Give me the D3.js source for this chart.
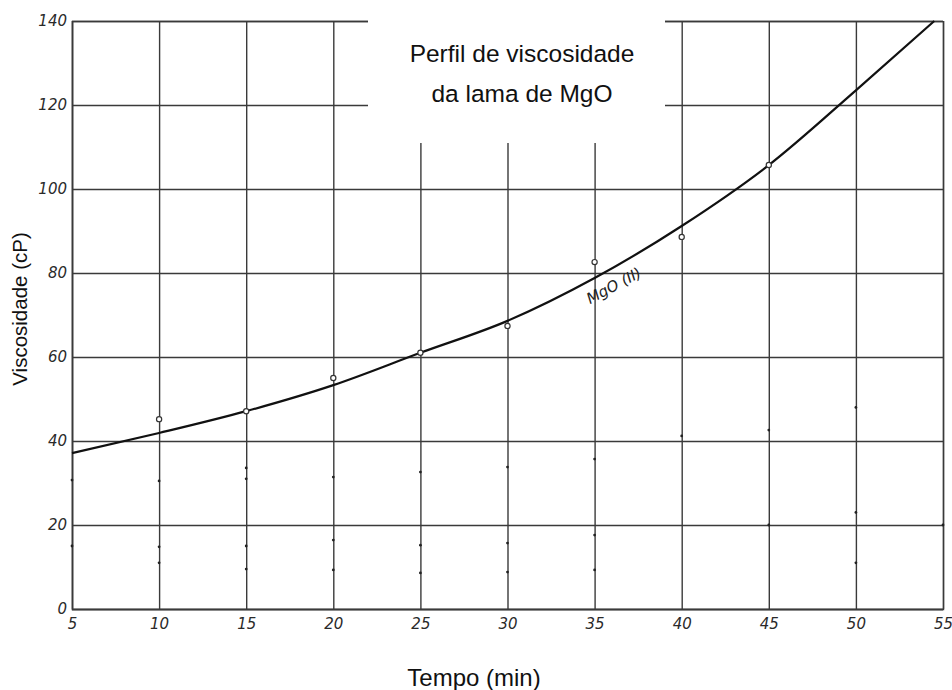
<!DOCTYPE html>
<html>
<head>
<meta charset="utf-8">
<script src="https://cdn.jsdelivr.net/npm/d3@7"></script>
<style>
body { margin: 0; background: #fff; }
</style>
</head>
<body>
<svg id="chart"></svg>
<script>
// tick labels
const timeTicks = [5, 10, 15, 20, 25, 30, 35, 40, 45, 50, 55];
const viscTicks = [0, 20, 40, 60, 80, 100, 120, 140];

// measured points (open circles)
const measTime = [10, 15, 20, 25, 30, 35, 40, 45];
const measVisc = [45.2, 47.1, 55.0, 61.0, 67.4, 82.6, 88.6, 105.7];

// fitted curve MgO (II)
const fitTime = [5, 10, 15, 20, 25, 30, 35, 40, 45, 50, 54.5];
const fitVisc = [37.1, 41.9, 47.1, 53.3, 61.0, 68.6, 78.8, 91.2, 105.7, 123.5, 140];

// small pencil marks left on the scanned sheet
const markTime = [5, 5, 10, 10, 10, 15, 15, 15, 15, 20, 20, 20, 25, 25, 25, 30, 30, 30, 35, 35, 35, 40, 45, 45, 50, 50, 50, 55];
const markVisc = [30.7, 15, 30.5, 14.8, 11, 33.6, 31, 15, 9.5, 31.4, 16.4, 9.3, 32.6, 15.2, 8.6, 33.8, 15.7, 8.8, 35.7, 17.6, 9.3, 41.2, 42.6, 20, 48, 23, 11, 20];

const width = 952;
const height = 690;
const plotLeft = 72, plotRight = 943, plotTop = 21, plotBottom = 609;

const svg = d3.select("#chart")
    .attr("width", width)
    .attr("height", height)
    .style("background", "#fff");

const x = d3.scaleLinear().domain([5, 55]).range([plotLeft, plotRight]);
const y = d3.scaleLinear().domain([0, 140]).range([plotBottom, plotTop]);

const tickFont = "'DejaVu Sans', sans-serif";
const textFont = "'Liberation Sans', Arial, sans-serif";

const xAxis = svg.append("g")
    .attr("transform", `translate(0,${plotBottom})`)
    .call(d3.axisBottom(x)
        .tickValues(timeTicks)
        .tickSize(-(plotBottom - plotTop))
        .tickPadding(9)
        .tickFormat(d3.format("d")));

const yAxis = svg.append("g")
    .attr("transform", `translate(${plotLeft},0)`)
    .call(d3.axisLeft(y)
        .tickValues(viscTicks)
        .tickSize(-(plotRight - plotLeft))
        .tickPadding(5)
        .tickFormat(d3.format("d")));

[xAxis, yAxis].forEach(g => {
    g.select(".domain").attr("stroke", "#3a3a3a").attr("stroke-width", 1.4);
    g.selectAll(".tick line").attr("stroke", "#3a3a3a").attr("stroke-width", 1.4);
    g.selectAll(".tick text")
        .attr("fill", "#2a2a2a")
        .attr("font-family", tickFont)
        .attr("font-style", "italic")
        .attr("font-size", 15);
});

// white box behind the title
svg.append("rect")
    .attr("x", 368)
    .attr("y", 0)
    .attr("width", 297)
    .attr("height", 143)
    .attr("fill", "#fff");

const title = svg.append("text")
    .attr("text-anchor", "middle")
    .attr("font-family", textFont)
    .attr("font-size", 24.5)
    .attr("fill", "#111");
title.append("tspan").attr("x", 522).attr("y", 62).text("Perfil de viscosidade");
title.append("tspan").attr("x", 522).attr("y", 102).text("da lama de MgO");

// fitted curve
const line = d3.line()
    .x((d, i) => x(fitTime[i]))
    .y(d => y(d))
    .curve(d3.curveMonotoneX);

svg.append("path")
    .datum(fitVisc)
    .attr("fill", "none")
    .attr("stroke", "#111")
    .attr("stroke-width", 2.2)
    .attr("d", line);

// pencil marks
svg.append("g")
    .selectAll("circle")
    .data(markVisc)
    .enter()
    .append("circle")
    .attr("cx", (d, i) => x(markTime[i]))
    .attr("cy", d => y(d))
    .attr("r", 1.4)
    .attr("fill", "#222");

// measured points
svg.append("g")
    .selectAll("circle")
    .data(measVisc)
    .enter()
    .append("circle")
    .attr("cx", (d, i) => x(measTime[i]))
    .attr("cy", d => y(d))
    .attr("r", 2.6)
    .attr("fill", "#fff")
    .attr("stroke", "#333")
    .attr("stroke-width", 1.2);

// curve label
svg.append("text")
    .attr("transform", `translate(${x(36.1)},${y(77.0)}) rotate(-28)`)
    .attr("text-anchor", "middle")
    .attr("dy", "0.35em")
    .attr("font-family", tickFont)
    .attr("font-style", "italic")
    .attr("font-size", 15)
    .attr("fill", "#222")
    .text("MgO (II)");

// axis titles
svg.append("text")
    .attr("x", 474)
    .attr("y", 686)
    .attr("text-anchor", "middle")
    .attr("font-family", textFont)
    .attr("font-size", 24)
    .attr("fill", "#111")
    .text("Tempo (min)");

svg.append("text")
    .attr("transform", "translate(27,309) rotate(-90)")
    .attr("text-anchor", "middle")
    .attr("font-family", textFont)
    .attr("font-size", 20.5)
    .attr("fill", "#111")
    .text("Viscosidade (cP)");
</script>
</body>
</html>
